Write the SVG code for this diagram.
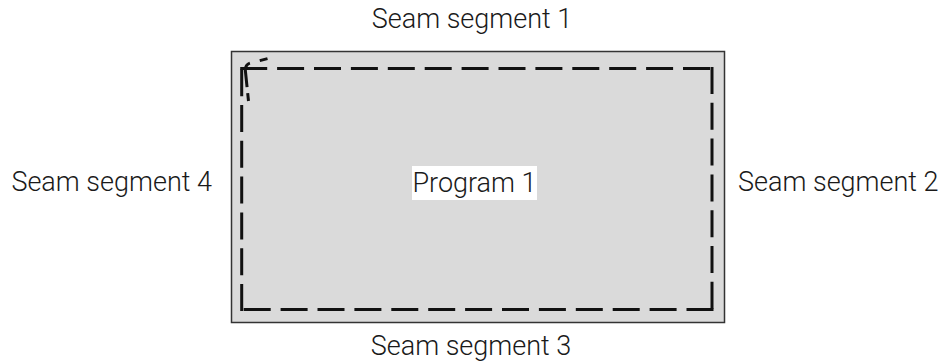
<svg xmlns="http://www.w3.org/2000/svg" width="948" height="364" viewBox="0 0 948 364">
<style>
.lbl{font-family:Roboto,"Liberation Sans",sans-serif;font-size:27px;font-weight:300;fill:#1a1a1a}
.seam{fill:none;stroke:#111;stroke-width:3}
</style>
<rect width="948" height="364" fill="#fff"/>
<g id="workpiece">
<rect x="231.5" y="51.5" width="493" height="271" fill="#dadada" stroke="#333" stroke-width="1.5"/>
</g>
<g id="connectors">
<line class="seam" x1="240.2" y1="68.5" x2="713.5" y2="68.5" stroke-dasharray="27,9.9"/>
<line class="seam" x1="713.5" y1="309.5" x2="240.2" y2="309.5" stroke-dasharray="27,9.9"/>
<line class="seam" x1="712" y1="67" x2="712" y2="311" stroke-dasharray="27,8.8"/>
<line class="seam" x1="241.7" y1="311" x2="241.7" y2="67" stroke-dasharray="27,8.8"/>
<path class="seam" d="M248.5,101 L245.5,72 Q244.5,64 251,62.8 L268,58.5" stroke-width="2.5" stroke-dasharray="8,6,26,10"/>
</g>
<g id="program1">
<rect x="412" y="166" width="125" height="34" fill="#fff"/>
<text class="lbl" x="474.5" y="192" text-anchor="middle">Program 1</text>
</g>
<g id="seam1"><text class="lbl" x="472" y="28" text-anchor="middle">Seam segment 1</text></g>
<g id="seam2"><text class="lbl" x="738" y="191">Seam segment 2</text></g>
<g id="seam3"><text class="lbl" x="471" y="355" text-anchor="middle">Seam segment 3</text></g>
<g id="seam4"><text class="lbl" x="212" y="191" text-anchor="end">Seam segment 4</text></g>
</svg>
